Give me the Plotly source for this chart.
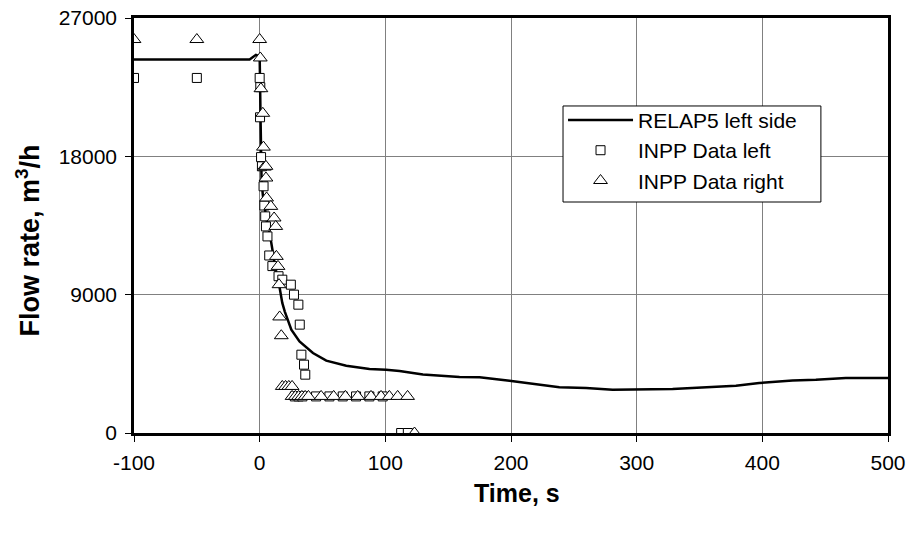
import plotly.graph_objects as go

# RELAP5 left side (line)
relap_t = [-100, -8, -3, 0, 0.8, 1.5, 2.5, 4, 6, 8, 10, 12, 14, 16, 18, 20, 25.2, 31.7, 42.4,
           53, 68.9, 87.4, 100.6, 111.3, 129.9, 159, 175, 198.8, 238.5, 259.8, 280.9,
           328.6, 360.4, 379, 397.5, 424, 442.6, 466.4, 498.2, 500]
relap_q = [24300, 24300, 24600, 24500, 20000, 16500, 15500, 14600, 13600, 13000, 12000, 11100,
           10000, 9400, 8460, 7900, 6720, 5960, 5205, 4705, 4380, 4165, 4120, 4030, 3800,
           3645, 3620, 3405, 2970, 2930, 2820, 2860, 2970, 3080, 3250, 3420, 3470, 3580,
           3580, 3580]

# INPP Data left (squares)
left_t = [-100, -50, 0, 0.5, 0.3, 1.1, 1.8, 3.1, 3.7, 4.4, 5, 6.2, 7.6, 10.1, 15, 18, 24.8,
          27.3, 30.8, 31.9, 33.2, 35.3, 36.3, 28, 31, 34, 44.9, 55.5, 66.1, 76.7, 87.3, 97.9,
          112.6, 117.9]
left_q = [23100, 23100, 23100, 22500, 20540, 17950, 17350, 16050, 14800, 14095, 13440, 12790,
          11550, 10860, 10200, 9975, 9650, 9000, 8350, 7050, 5095, 4445, 3795, 2380, 2380,
          2380, 2380, 2380, 2380, 2380, 2380, 2380, 0, 0]

# INPP Data right (triangles)
right_t = [-100, -50, 0, 0.5, 1, 2.5, 3, 3.7, 5, 5, 5.5, 8.9, 11.5, 12.8, 13.3, 14.6, 15.4,
           15.9, 17.2, 18, 20.6, 23.2, 25.8, 25.8, 28.4, 31, 33.6, 36.2, 38.8, 48.9, 58.9,
           68.2, 78, 88.6, 96.6, 103.2, 109.8, 117.7, 123.2]
right_q = [25600, 25600, 25600, 24400, 22400, 20800, 18600, 17300, 17350, 16590, 15290, 14745,
           13990, 13440, 11490, 10840, 9650, 7550, 6330, 3030, 3030, 3030, 3030, 2380, 2380,
           2380, 2380, 2380, 2380, 2380, 2380, 2380, 2380, 2380, 2380, 2380, 2380, 2380, 0]

x_ticks = [-100, 0, 100, 200, 300, 400, 500]
y_ticks = [0, 9000, 18000, 27000]

FONT = "Liberation Sans, Arial, sans-serif"

fig = go.Figure()
fig.add_trace(go.Scatter(x=relap_t, y=relap_q, mode="lines", name="RELAP5 left side",
                         line=dict(color="black", width=2.5)))
fig.add_trace(go.Scatter(x=left_t, y=left_q, mode="markers", name="INPP Data left",
                         marker=dict(symbol="square", size=9, color="white",
                                     line=dict(color="black", width=1))))
fig.add_trace(go.Scatter(x=right_t, y=right_q, mode="markers", name="INPP Data right",
                         marker=dict(symbol="triangle-up", size=12, color="white",
                                     line=dict(color="black", width=1))))

L, R, T, B = 134, 24, 18, 100
fig.update_layout(
    width=912, height=533,
    margin=dict(l=L, r=R, t=T, b=B, pad=0, autoexpand=False),
    paper_bgcolor="white", plot_bgcolor="white",
    font=dict(family=FONT, size=21, color="black"),
    showlegend=True,
    legend=dict(x=0.569, y=0.803, xanchor="left", yanchor="top",
                borderwidth=0, bgcolor="rgba(0,0,0,0)",
                font=dict(family=FONT, size=21, color="black"),
                tracegroupgap=0, itemwidth=65),
    shapes=[dict(type="rect", xref="paper", yref="paper", x0=0.569, x1=0.911,
                 y0=0.5566, y1=0.788, line=dict(color="black", width=1),
                 fillcolor="white", layer="above")],
    xaxis=dict(range=[-100, 500], tickvals=x_ticks, ticktext=[str(v) for v in x_ticks],
               showgrid=True, gridcolor="#808080", gridwidth=1, zeroline=False,
               showline=True, linecolor="black", linewidth=2.5, mirror=True,
               ticks="outside", ticklen=6, tickcolor="black", tickwidth=1,
               ticklabelstandoff=3,
               ticklabeloverflow="allow", automargin=False),
    yaxis=dict(range=[0, 27000], tickvals=y_ticks, ticktext=[str(v) for v in y_ticks],
               showgrid=True, gridcolor="#808080", gridwidth=1, zeroline=False,
               showline=True, linecolor="black", linewidth=2.5, mirror=True,
               ticks="outside", ticklen=6, tickcolor="black", tickwidth=1,
               ticklabelstandoff=4,
               ticklabeloverflow="allow", automargin=False),
    annotations=[
        dict(text="<b>Time, s</b>", xref="paper", yref="paper", x=0.508, y=-0.145,
             xanchor="center", yanchor="middle", showarrow=False,
             font=dict(family=FONT, size=25, color="black")),
        dict(text="<b>Flow rate, m<sup>3</sup>/h</b>", xref="paper", yref="paper",
             x=-0.1406, y=0.464, xanchor="center", yanchor="middle", textangle=-90,
             showarrow=False, font=dict(family=FONT, size=27, color="black")),
    ],
)

fig.write_html("out.html")
